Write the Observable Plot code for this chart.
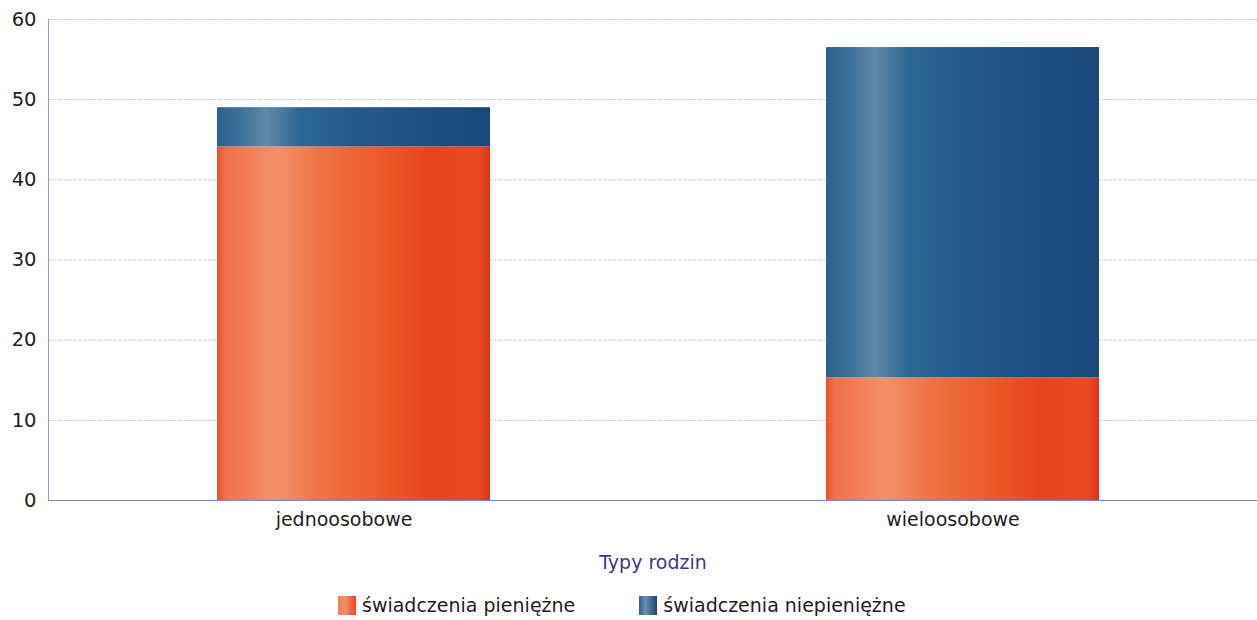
<!DOCTYPE html>
<html><head><meta charset="utf-8">
<script src="https://cdn.jsdelivr.net/npm/d3@7"></script>
<script src="https://cdn.jsdelivr.net/npm/@observablehq/plot@0.6"></script>
<style>
body{margin:0;background:#fff;font-family:"DejaVu Sans",sans-serif}
#chart{position:relative;width:1257px;height:620px;overflow:hidden}
#legend{position:absolute;top:594px;left:338px;display:flex;align-items:center;font-size:19px;color:#1e1e1e;white-space:nowrap}
.item{display:flex;align-items:center}
.sw{width:18px;height:19px;display:inline-block;margin-right:6px}
</style></head><body><div id="chart"></div>
<script>
const categories = ["jednoosobowe", "wieloosobowe"];
const series = ["świadczenia pieniężne", "świadczenia niepieniężne"];
const pieniezne = [44.1, 15.3];
const niepieniezne = [4.9, 41.2];
const yTicks = [0, 10, 20, 30, 40, 50, 60];
const axisTitle = "Typy rodzin";

const data = categories.flatMap((c, i) => [
  {typ: c, seria: series[0], v: pieniezne[i]},
  {typ: c, seria: series[1], v: niepieniezne[i]}
]);

const plot = Plot.plot({
  width: 1257, height: 585,
  marginTop: 19, marginLeft: 48, marginRight: 0, marginBottom: 85,
  style: {fontFamily: '"DejaVu Sans", sans-serif', fontSize: "18px", color: "#1e1e1e", background: "transparent", overflow: "visible"},
  x: {domain: categories, range: [49, 1267], paddingInner: 0.552, paddingOuter: 0.276},
  y: {domain: [0, 60]},
  color: {domain: series, range: ["url(#gO)", "url(#gB)"]},
  marks: [
    Plot.gridY(yTicks, {stroke: "#cfcfd4", strokeOpacity: 1, strokeDasharray: "4,1"}),
    Plot.frame({anchor: "left", stroke: "#9a9ab4"}),
    Plot.barY(data, {x: "typ", y: "v", fill: "seria"}),
    Plot.ruleY([0], {stroke: "#8484bc", strokeWidth: 1.2}),
    Plot.axisY(yTicks, {tickSize: 0, tickPadding: 12, label: null, fontSize: 19.5, fill: "#1e1e1e"}),
    Plot.axisX({tickSize: 0, tickPadding: 12, dx: -10, label: null, fontSize: 19, fill: "#1e1e1e"}),
    Plot.axisX({tickSize: 0, tickFormat: () => "", label: axisTitle, labelAnchor: "center", labelArrow: "none", labelOffset: 68, fontSize: 19, fill: "#3c3c7c"})
  ]
});

d3.select(plot).insert("defs", ":first-child").html(`
<linearGradient id="gO" x1="0" x2="1" y1="0" y2="0">
  <stop offset="0" stop-color="#e8502a"/>
  <stop offset="0.03" stop-color="#f07048"/>
  <stop offset="0.22" stop-color="#f5906c"/>
  <stop offset="0.38" stop-color="#ef7242"/>
  <stop offset="0.6" stop-color="#ec5a2a"/>
  <stop offset="0.78" stop-color="#e8441e"/>
  <stop offset="0.96" stop-color="#e84a24"/>
  <stop offset="1" stop-color="#dc3418"/>
</linearGradient>
<linearGradient id="gB" x1="0" x2="1" y1="0" y2="0">
  <stop offset="0" stop-color="#2a6390"/>
  <stop offset="0.08" stop-color="#3a6f98"/>
  <stop offset="0.18" stop-color="#6089a8"/>
  <stop offset="0.3" stop-color="#2d6794"/>
  <stop offset="0.55" stop-color="#225889"/>
  <stop offset="0.8" stop-color="#1c4e80"/>
  <stop offset="1" stop-color="#1a4878"/>
</linearGradient>`);

const chart = document.getElementById("chart");
chart.appendChild(plot);

const legend = document.createElement("div");
legend.id = "legend";
const swatches = ["linear-gradient(90deg,#f08058,#f5906c 40%,#e8441e)", "linear-gradient(90deg,#2a6390,#6a8fac 35%,#1a4676)"];
series.forEach((s, i) => {
  const it = document.createElement("div");
  it.className = "item";
  if (i > 0) it.style.marginLeft = "64px";
  const sw = document.createElement("span");
  sw.className = "sw";
  sw.style.background = swatches[i];
  const t = document.createElement("span");
  t.textContent = s;
  it.appendChild(sw); it.appendChild(t);
  legend.appendChild(it);
});
chart.appendChild(legend);
</script></body></html>
